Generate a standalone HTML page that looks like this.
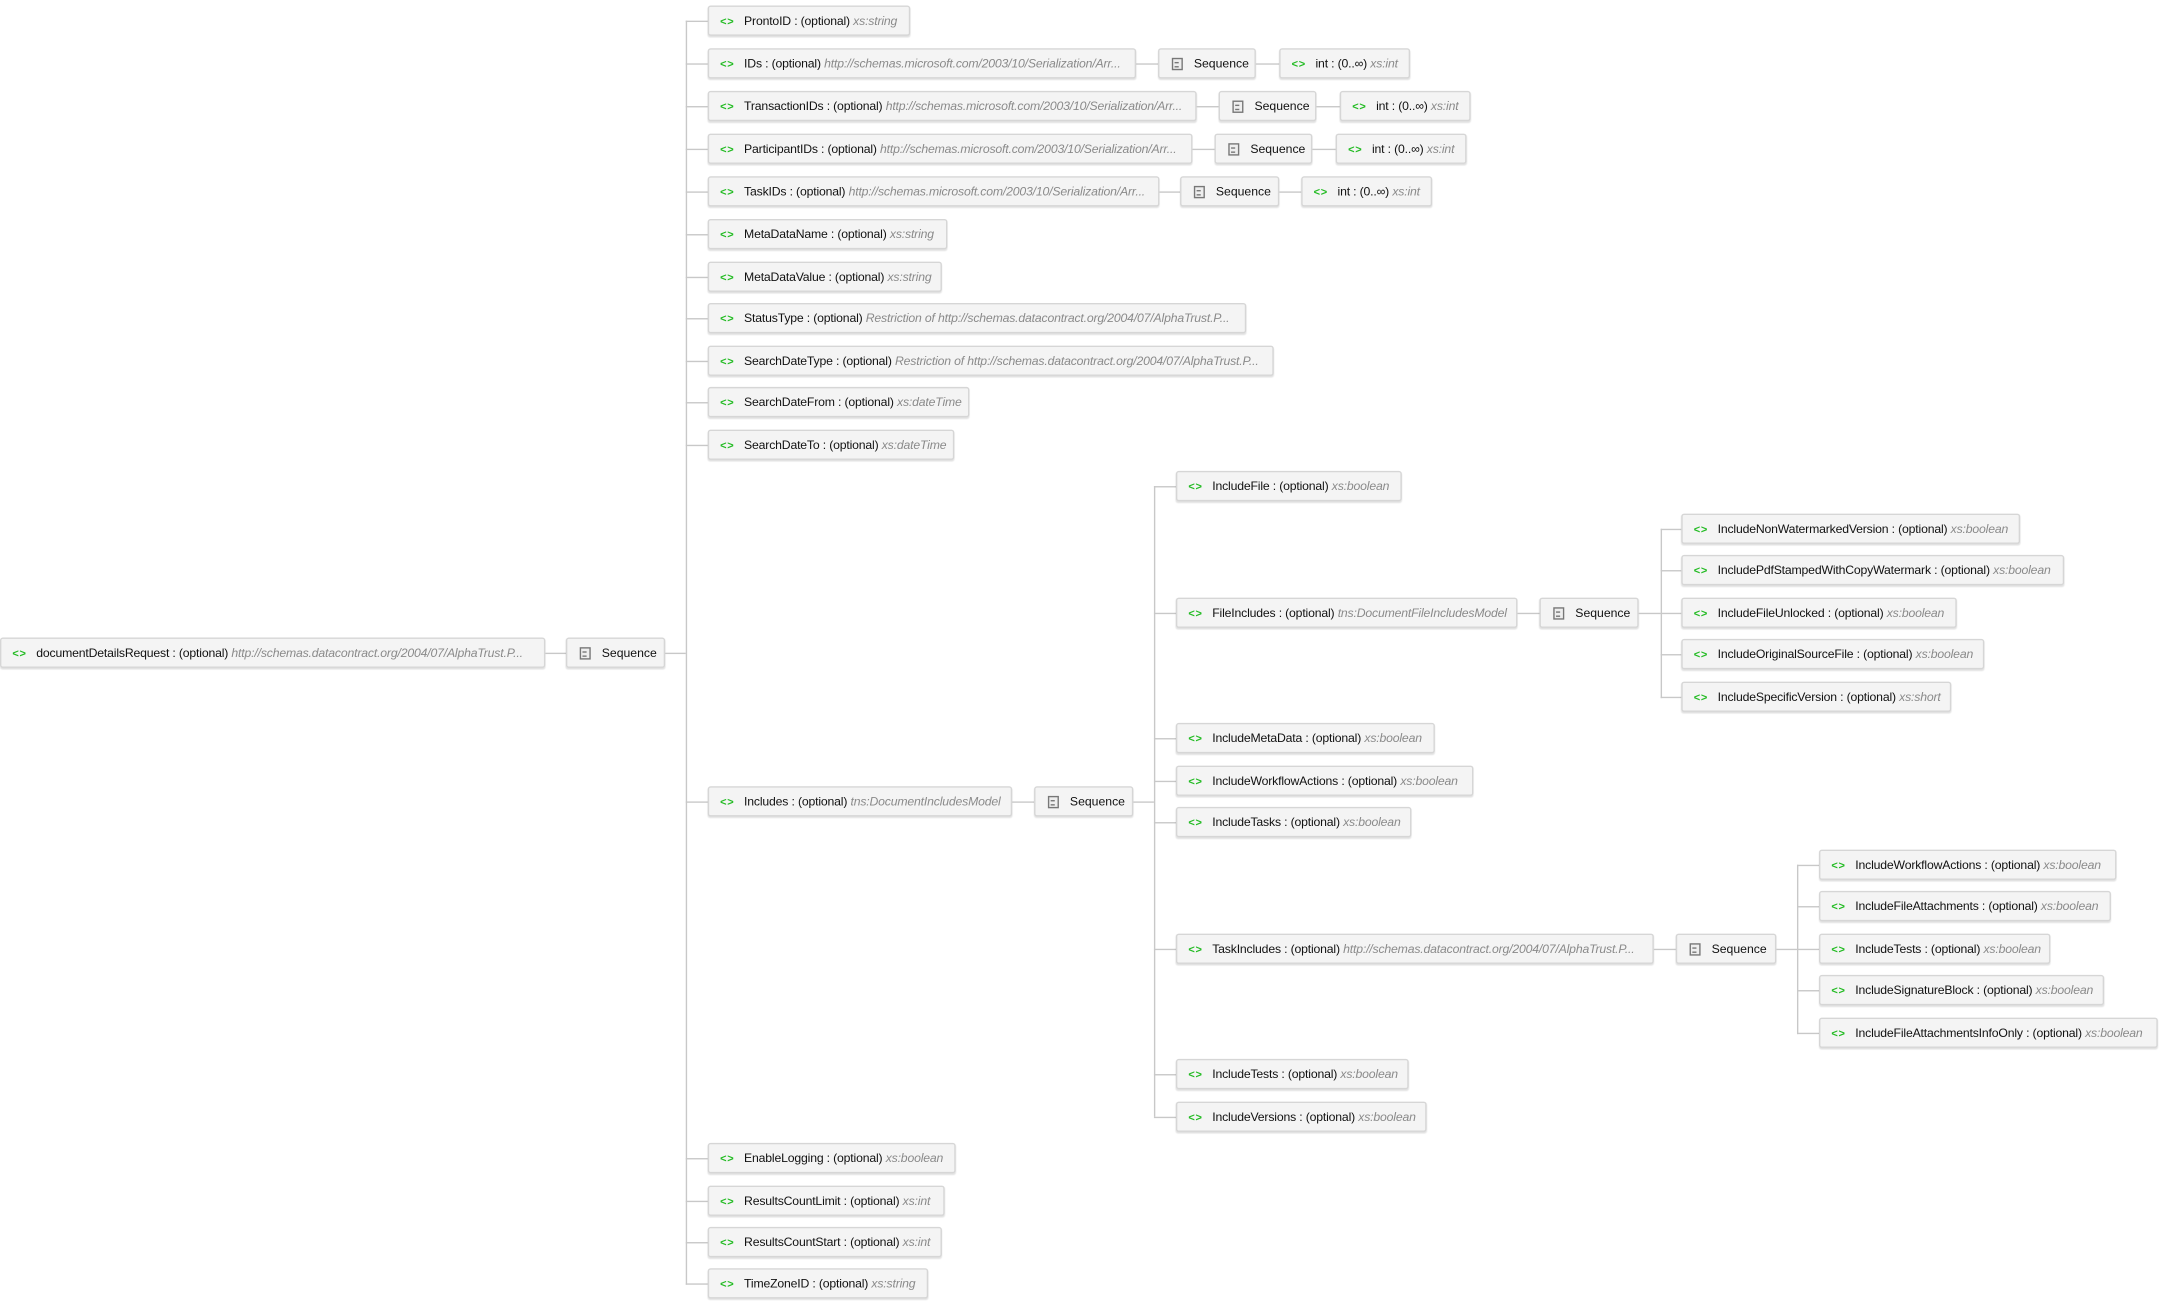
<!DOCTYPE html>
<html><head><meta charset="utf-8"><style>
html,body{margin:0;padding:0;background:#fff;}
body{width:2159px;height:1306px;overflow:hidden;position:relative;}
#c{position:absolute;left:0;top:0;width:1568px;height:949px;transform:scale(1.377);transform-origin:0 0;font-family:"Liberation Sans",sans-serif;}
.b{position:absolute;height:22px;box-sizing:border-box;background:#f4f4f4;border:1px solid #d6d6d6;border-radius:2px;box-shadow:0 1px 1px rgba(0,0,0,.12);white-space:nowrap;overflow:hidden;font-size:8.9px;line-height:20px;color:#111;padding-left:8px;letter-spacing:-0.12px;}
.b i{color:#8a8a8a;}
.g{color:#22bb22;font-weight:bold;font-style:normal;margin-right:7px;letter-spacing:0.5px;font-size:8px;}
.s{position:absolute;height:22px;box-sizing:border-box;background:#f4f4f4;border:1px solid #d6d6d6;border-radius:2px;box-shadow:0 1px 1px rgba(0,0,0,.12);font-size:8.9px;line-height:20px;color:#111;padding-left:25px;}
.s:before{content:"";position:absolute;left:9px;top:6px;width:6px;height:7px;border:1px solid #777;background:#eee;}
.s:after{content:"";position:absolute;left:11px;top:9px;width:3px;height:2px;border-top:1px solid #777;border-bottom:1px solid #777;}
.h{position:absolute;height:1px;background:#c8c8c8;}
.v{position:absolute;width:1px;background:#c8c8c8;}
</style></head><body><div id="c">
<div class="b" style="left:0;top:463px;width:396px"><span class="g">&lt;&gt;</span>documentDetailsRequest : (optional) <i>http://schemas.datacontract.org/2004/07/AlphaTrust.P...</i></div>
<div class="h" style="left:396px;top:474px;width:15px"></div>
<div class="s" style="left:411px;top:463px;width:72px">Sequence</div>
<div class="h" style="left:483px;top:474px;width:15px"></div>
<div class="v" style="left:498px;top:15px;height:918px"></div>

<div class="h" style="left:498px;top:15px;width:16px"></div><div class="b" style="left:514px;top:4px;width:147px"><span class="g">&lt;&gt;</span>ProntoID : (optional) <i>xs:string</i></div>
<div class="h" style="left:498px;top:46px;width:16px"></div><div class="b" style="left:514px;top:35px;width:311px"><span class="g">&lt;&gt;</span>IDs : (optional) <i>http://schemas.microsoft.com/2003/10/Serialization/Arr...</i></div>
<div class="h" style="left:825px;top:46px;width:16px"></div><div class="s" style="left:841px;top:35px;width:71px">Sequence</div>
<div class="h" style="left:912px;top:46px;width:17px"></div><div class="b" style="left:929px;top:35px;width:95px"><span class="g">&lt;&gt;</span>int : (0..∞) <i>xs:int</i></div>

<div class="h" style="left:498px;top:77px;width:16px"></div><div class="b" style="left:514px;top:66px;width:355px"><span class="g">&lt;&gt;</span>TransactionIDs : (optional) <i>http://schemas.microsoft.com/2003/10/Serialization/Arr...</i></div>
<div class="h" style="left:869px;top:77px;width:16px"></div><div class="s" style="left:885px;top:66px;width:71px">Sequence</div>
<div class="h" style="left:956px;top:77px;width:17px"></div><div class="b" style="left:973px;top:66px;width:95px"><span class="g">&lt;&gt;</span>int : (0..∞) <i>xs:int</i></div>

<div class="h" style="left:498px;top:108px;width:16px"></div><div class="b" style="left:514px;top:97px;width:352px"><span class="g">&lt;&gt;</span>ParticipantIDs : (optional) <i>http://schemas.microsoft.com/2003/10/Serialization/Arr...</i></div>
<div class="h" style="left:866px;top:108px;width:16px"></div><div class="s" style="left:882px;top:97px;width:71px">Sequence</div>
<div class="h" style="left:953px;top:108px;width:17px"></div><div class="b" style="left:970px;top:97px;width:95px"><span class="g">&lt;&gt;</span>int : (0..∞) <i>xs:int</i></div>

<div class="h" style="left:498px;top:139px;width:16px"></div><div class="b" style="left:514px;top:128px;width:328px"><span class="g">&lt;&gt;</span>TaskIDs : (optional) <i>http://schemas.microsoft.com/2003/10/Serialization/Arr...</i></div>
<div class="h" style="left:842px;top:139px;width:15px"></div><div class="s" style="left:857px;top:128px;width:72px">Sequence</div>
<div class="h" style="left:929px;top:139px;width:16px"></div><div class="b" style="left:945px;top:128px;width:95px"><span class="g">&lt;&gt;</span>int : (0..∞) <i>xs:int</i></div>

<div class="h" style="left:498px;top:170px;width:16px"></div><div class="b" style="left:514px;top:159px;width:174px"><span class="g">&lt;&gt;</span>MetaDataName : (optional) <i>xs:string</i></div>
<div class="h" style="left:498px;top:201px;width:16px"></div><div class="b" style="left:514px;top:190px;width:170px"><span class="g">&lt;&gt;</span>MetaDataValue : (optional) <i>xs:string</i></div>
<div class="h" style="left:498px;top:231px;width:16px"></div><div class="b" style="left:514px;top:220px;width:391px"><span class="g">&lt;&gt;</span>StatusType : (optional) <i>Restriction of http://schemas.datacontract.org/2004/07/AlphaTrust.P...</i></div>
<div class="h" style="left:498px;top:262px;width:16px"></div><div class="b" style="left:514px;top:251px;width:411px"><span class="g">&lt;&gt;</span>SearchDateType : (optional) <i>Restriction of http://schemas.datacontract.org/2004/07/AlphaTrust.P...</i></div>
<div class="h" style="left:498px;top:292px;width:16px"></div><div class="b" style="left:514px;top:281px;width:190px"><span class="g">&lt;&gt;</span>SearchDateFrom : (optional) <i>xs:dateTime</i></div>
<div class="h" style="left:498px;top:323px;width:16px"></div><div class="b" style="left:514px;top:312px;width:179px"><span class="g">&lt;&gt;</span>SearchDateTo : (optional) <i>xs:dateTime</i></div>

<div class="h" style="left:498px;top:582px;width:16px"></div><div class="b" style="left:514px;top:571px;width:221px"><span class="g">&lt;&gt;</span>Includes : (optional) <i>tns:DocumentIncludesModel</i></div>
<div class="h" style="left:735px;top:582px;width:16px"></div><div class="s" style="left:751px;top:571px;width:72px">Sequence</div>
<div class="h" style="left:823px;top:582px;width:15px"></div>
<div class="v" style="left:838px;top:353px;height:458px"></div>

<div class="h" style="left:498px;top:841px;width:16px"></div><div class="b" style="left:514px;top:830px;width:180px"><span class="g">&lt;&gt;</span>EnableLogging : (optional) <i>xs:boolean</i></div>
<div class="h" style="left:498px;top:872px;width:16px"></div><div class="b" style="left:514px;top:861px;width:172px"><span class="g">&lt;&gt;</span>ResultsCountLimit : (optional) <i>xs:int</i></div>
<div class="h" style="left:498px;top:902px;width:16px"></div><div class="b" style="left:514px;top:891px;width:170px"><span class="g">&lt;&gt;</span>ResultsCountStart : (optional) <i>xs:int</i></div>
<div class="h" style="left:498px;top:932px;width:16px"></div><div class="b" style="left:514px;top:921px;width:160px"><span class="g">&lt;&gt;</span>TimeZoneID : (optional) <i>xs:string</i></div>

<div class="h" style="left:838px;top:353px;width:16px"></div><div class="b" style="left:854px;top:342px;width:164px"><span class="g">&lt;&gt;</span>IncludeFile : (optional) <i>xs:boolean</i></div>
<div class="h" style="left:838px;top:445px;width:16px"></div><div class="b" style="left:854px;top:434px;width:248px"><span class="g">&lt;&gt;</span>FileIncludes : (optional) <i>tns:DocumentFileIncludesModel</i></div>
<div class="h" style="left:1102px;top:445px;width:16px"></div><div class="s" style="left:1118px;top:434px;width:72px">Sequence</div>
<div class="h" style="left:1190px;top:445px;width:16px"></div>
<div class="v" style="left:1206px;top:384px;height:123px"></div>
<div class="h" style="left:838px;top:536px;width:16px"></div><div class="b" style="left:854px;top:525px;width:188px"><span class="g">&lt;&gt;</span>IncludeMetaData : (optional) <i>xs:boolean</i></div>
<div class="h" style="left:838px;top:567px;width:16px"></div><div class="b" style="left:854px;top:556px;width:216px"><span class="g">&lt;&gt;</span>IncludeWorkflowActions : (optional) <i>xs:boolean</i></div>
<div class="h" style="left:838px;top:597px;width:16px"></div><div class="b" style="left:854px;top:586px;width:171px"><span class="g">&lt;&gt;</span>IncludeTasks : (optional) <i>xs:boolean</i></div>
<div class="h" style="left:838px;top:689px;width:16px"></div><div class="b" style="left:854px;top:678px;width:347px"><span class="g">&lt;&gt;</span>TaskIncludes : (optional) <i>http://schemas.datacontract.org/2004/07/AlphaTrust.P...</i></div>
<div class="h" style="left:1201px;top:689px;width:16px"></div><div class="s" style="left:1217px;top:678px;width:73px">Sequence</div>
<div class="h" style="left:1290px;top:689px;width:15px"></div>
<div class="v" style="left:1305px;top:628px;height:123px"></div>
<div class="h" style="left:838px;top:780px;width:16px"></div><div class="b" style="left:854px;top:769px;width:169px"><span class="g">&lt;&gt;</span>IncludeTests : (optional) <i>xs:boolean</i></div>
<div class="h" style="left:838px;top:811px;width:16px"></div><div class="b" style="left:854px;top:800px;width:182px"><span class="g">&lt;&gt;</span>IncludeVersions : (optional) <i>xs:boolean</i></div>

<div class="h" style="left:1206px;top:384px;width:15px"></div><div class="b" style="left:1221px;top:373px;width:246px"><span class="g">&lt;&gt;</span>IncludeNonWatermarkedVersion : (optional) <i>xs:boolean</i></div>
<div class="h" style="left:1206px;top:414px;width:15px"></div><div class="b" style="left:1221px;top:403px;width:278px"><span class="g">&lt;&gt;</span>IncludePdfStampedWithCopyWatermark : (optional) <i>xs:boolean</i></div>
<div class="h" style="left:1206px;top:445px;width:15px"></div><div class="b" style="left:1221px;top:434px;width:200px"><span class="g">&lt;&gt;</span>IncludeFileUnlocked : (optional) <i>xs:boolean</i></div>
<div class="h" style="left:1206px;top:475px;width:15px"></div><div class="b" style="left:1221px;top:464px;width:220px"><span class="g">&lt;&gt;</span>IncludeOriginalSourceFile : (optional) <i>xs:boolean</i></div>
<div class="h" style="left:1206px;top:506px;width:15px"></div><div class="b" style="left:1221px;top:495px;width:196px"><span class="g">&lt;&gt;</span>IncludeSpecificVersion : (optional) <i>xs:short</i></div>

<div class="h" style="left:1305px;top:628px;width:16px"></div><div class="b" style="left:1321px;top:617px;width:216px"><span class="g">&lt;&gt;</span>IncludeWorkflowActions : (optional) <i>xs:boolean</i></div>
<div class="h" style="left:1305px;top:658px;width:16px"></div><div class="b" style="left:1321px;top:647px;width:212px"><span class="g">&lt;&gt;</span>IncludeFileAttachments : (optional) <i>xs:boolean</i></div>
<div class="h" style="left:1305px;top:689px;width:16px"></div><div class="b" style="left:1321px;top:678px;width:168px"><span class="g">&lt;&gt;</span>IncludeTests : (optional) <i>xs:boolean</i></div>
<div class="h" style="left:1305px;top:719px;width:16px"></div><div class="b" style="left:1321px;top:708px;width:207px"><span class="g">&lt;&gt;</span>IncludeSignatureBlock : (optional) <i>xs:boolean</i></div>
<div class="h" style="left:1305px;top:750px;width:16px"></div><div class="b" style="left:1321px;top:739px;width:246px"><span class="g">&lt;&gt;</span>IncludeFileAttachmentsInfoOnly : (optional) <i>xs:boolean</i></div>
</div></body></html>
